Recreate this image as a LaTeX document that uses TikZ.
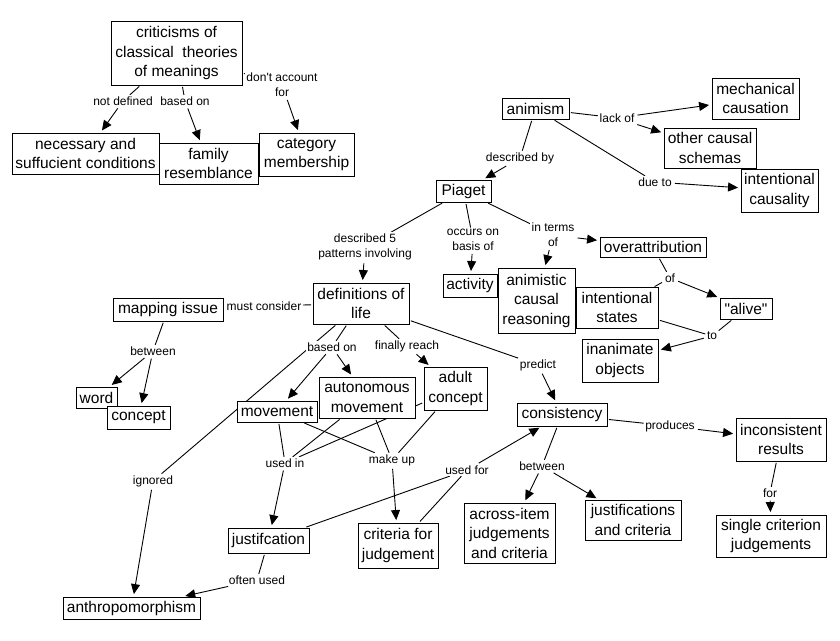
\documentclass[tikz,border=0pt]{standalone}
\usepackage{fontspec}
\setmainfont{Liberation Sans}[Ligatures=TeXOff]
\usetikzlibrary{arrows.meta,backgrounds}
\begin{document}
\begin{tikzpicture}[x=1pt,y=-1pt,
  concept/.style={draw,fill=white,line width=0.9pt,align=center,inner sep=0pt,font=\fontsize{15.5}{19.5}\selectfont},
  sz/.style n args={2}{minimum width=#1pt,minimum height=#2pt},
  lbl/.style={fill=white,inner sep=1.5pt,align=center,font=\fontsize{12}{15}\selectfont},
  link/.style={line width=0.9pt,shorten <=1.5pt},
  arr/.style={link,-{Triangle[length=10pt,width=9pt]},shorten >=2.5pt}]
\useasboundingbox (0,0) rectangle (840,640);
% concepts
\node[concept,sz={131}{64}] (crit) at (176.5,53) {criticisms of\\classical~ theories\\of meanings};
\node[concept,sz={147}{41}] (nec) at (85.5,153.5) {necessary and\\suffucient conditions};
\node[concept,sz={99}{41}] (fam) at (208.5,163.5) {family\\resemblance};
\node[concept,sz={95}{43}] (cat) at (306.5,154.5) {category\\membership};
\node[concept,sz={67}{21}] (animism) at (535.5,108.5) {animism};
\node[concept,sz={87}{41}] (mech) at (755.5,98.5) {mechanical\\causation};
\node[concept,sz={92}{40}] (other) at (710,148) {other causal\\schemas};
\node[concept,sz={77}{43}] (intcaus) at (779.5,190.5) {intentional\\causality};
\node[concept,sz={55}{22}] (piaget) at (463.5,191) {Piaget};
\node[concept,sz={106}{20}] (overattr) at (653,247) {overattribution};
\node[concept,sz={96}{41}] (defs) at (361,303.5) {definitions of\\life};
\node[concept,sz={54}{23}] (activity) at (470,285.5) {activity};
\node[concept,sz={77}{65}] (acr) at (536.5,300.5) {animistic\\causal\\reasoning};
\node[concept,sz={82}{41}] (intstates) at (617,307.5) {intentional\\states};
\node[concept,sz={52}{21}] (alive) at (746,308.5) {"alive"};
\node[concept,sz={76}{43}] (inanimate) at (620,360.5) {inanimate\\objects};
\node[concept,sz={110}{23}] (mapping) at (168,309.5) {mapping issue};
\node[concept,sz={41}{21}] (word) at (96.5,397.5) {word};
\node[concept,sz={63}{23}] (concept1) at (138.5,417.5) {concept};
\node[concept,sz={63}{43}] (adult) at (455.5,388.5) {adult\\concept};
\node[concept,sz={96}{41}] (automov) at (367,397.5) {autonomous\\movement};
\node[concept,sz={80}{21}] (movement) at (277,411.5) {movement};
\node[concept,sz={90}{23}] (consistency) at (562,414.5) {consistency};
\node[concept,sz={90}{43}] (inconsist) at (781,439.5) {inconsistent\\results};
\node[concept,sz={110}{42}] (single) at (771,536) {single criterion\\judgements};
\node[concept,sz={91}{60}] (across) at (509.5,533) {across-item\\judgements\\and criteria};
\node[concept,sz={96}{40}] (justcrit) at (633,520) {justifications\\and criteria};
\node[concept,sz={81}{25}] (justif) at (268.5,540.5) {justifcation};
\node[concept,sz={80}{45}] (criteria) at (398,545.5) {criteria for\\judgement};
\node[concept,sz={137}{22}] (anthro) at (131.5,608) {anthropomorphism};
% linking phrases
\node[lbl] (notdef) at (123,101) {not defined};
\node[lbl] (basedon1) at (185,101) {based on};
\node[lbl] (dontacc) at (282,85) {don't account\\for};
\node[lbl] (lackof) at (617,118) {lack of};
\node[lbl] (descby) at (520,158) {described by};
\node[lbl] (dueto) at (655,182) {due to};
\node[lbl] (descr5) at (365,247) {described 5\\patterns involving};
\node[lbl] (occurs) at (473,240) {occurs on\\basis of};
\node[lbl] (interms) at (553,235) {in terms\\of};
\node[lbl] (of) at (670,278) {of};
\node[lbl] (to) at (712,336) {to};
\node[lbl] (mustcons) at (264,306) {must consider};
\node[lbl] (between1) at (153,351) {between};
\node[lbl] (basedon2) at (332,347) {based on};
\node[lbl] (finally) at (407,346) {finally reach};
\node[lbl] (predict) at (538,365) {predict};
\node[lbl] (ignored) at (153,481) {ignored};
\node[lbl] (usedin) at (285,463) {used in};
\node[lbl] (makeup) at (392,460) {make up};
\node[lbl] (usedfor) at (467,470) {used for};
\node[lbl] (often) at (257,580) {often used};
\node[lbl] (produces) at (670,426) {produces};
\node[lbl] (for) at (770,493) {for};
\node[lbl] (between2) at (542,466) {between};
\begin{pgfonlayer}{background}
\fill[white] (0,0) rectangle (840,640);
\draw[link] (crit) -- (notdef);
\draw[arr] (notdef) -- (nec);
\draw[link] (crit) -- (basedon1);
\draw[arr] (basedon1) -- (fam);
\draw[link] (crit) -- (dontacc);
\draw[arr] (dontacc) -- (cat);
\draw[link] (animism) -- (lackof);
\draw[arr] (lackof) -- (mech);
\draw[arr] (lackof) -- (other);
\draw[link] (animism) -- (dueto);
\draw[arr] (dueto) -- (intcaus);
\draw[link] (animism) -- (descby);
\draw[arr] (descby) -- (piaget);
\draw[link] (piaget) -- (descr5);
\draw[arr] (descr5) -- (defs);
\draw[link] (piaget) -- (occurs);
\draw[arr] (occurs) -- (activity);
\draw[link] (piaget) -- (interms);
\draw[arr] (interms) -- (overattr);
\draw[arr] (interms) -- (acr);
\draw[link] (overattr) -- (of);
\draw[arr] (of) -- (alive);
\draw[link] (of) -- (intstates);
\draw[link] (intstates) -- (to);
\draw[link] (alive) -- (to);
\draw[arr] (to) -- (inanimate);
\draw[link] (defs) -- (mustcons);
\draw[link] (mapping) -- (between1);
\draw[arr] (between1) -- (word);
\draw[arr] (between1) -- (concept1);
\draw[link] (defs) -- (basedon2);
\draw[arr] (basedon2) -- (movement);
\draw[arr] (basedon2) -- (automov);
\draw[link] (defs) -- (finally);
\draw[arr] (finally) -- (adult);
\draw[link] (defs) -- (predict);
\draw[arr] (predict) -- (consistency);
\draw[link] (defs) -- (ignored);
\draw[arr] (ignored) -- (anthro);
\draw[link] (movement) -- (usedin);
\draw[link] (automov) -- (usedin);
\draw[link] (adult) -- (usedin);
\draw[arr] (usedin) -- (justif);
\draw[link] (movement) -- (makeup);
\draw[link] (automov) -- (makeup);
\draw[link] (adult) -- (makeup);
\draw[arr] (makeup) -- (criteria);
\draw[link] (justif) -- (usedfor);
\draw[link] (criteria) -- (usedfor);
\draw[arr] (usedfor) -- (consistency);
\draw[link] (justif) -- (often);
\draw[arr] (often) -- (anthro);
\draw[link] (consistency) -- (produces);
\draw[arr] (produces) -- (inconsist);
\draw[link] (inconsist) -- (for);
\draw[arr] (for) -- (single);
\draw[link] (consistency) -- (between2);
\draw[arr] (between2) -- (across);
\draw[arr] (between2) -- (justcrit);
\end{pgfonlayer}
\end{tikzpicture}
\end{document}
